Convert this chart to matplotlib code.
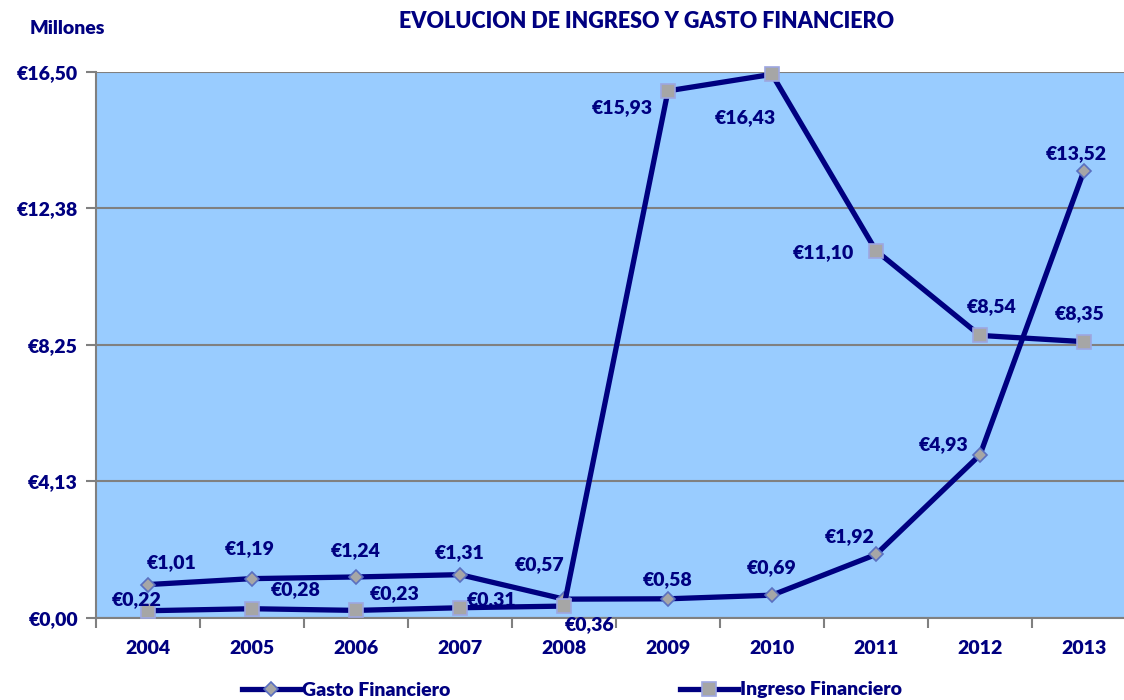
import numpy as np
import matplotlib.pyplot as plt

years = ['2004', '2005', '2006', '2007', '2008', '2009', '2010', '2011', '2012', '2013']
gasto = [1.01, 1.19, 1.24, 1.31, 0.57, 0.58, 0.69, 1.92, 4.93, 13.52]
ingreso = [0.22, 0.28, 0.23, 0.31, 0.36, 15.93, 16.43, 11.10, 8.54, 8.35]
yticks = [0.0, 4.13, 8.25, 12.38, 16.50]

# desplazamiento de las etiquetas (pixeles)
off_gasto = [(24, 22), (-2, 30), (0, 26), (0, 22), (-24, 35), (0, 19), (0, 28), (-26, 18), (-36, 10), (-8, 17)]
off_ingreso = [(-11, 11), (44, 19), (39, 17), (32, 8), (26, -19), (-46, -17), (-27, -43), (-53, -2), (12, 29), (-4, 28)]

navy = '#000080'
plt.rcParams['font.family'] = ['Lato', 'DejaVu Sans']

fig = plt.figure(figsize=(11.24, 7), dpi=100)
ax = fig.add_axes([96 / 1124, 1 - 618 / 700, 1040 / 1124, 546 / 700])
ax.set_facecolor('#99CCFF')

x = np.arange(len(years))
ax.plot(x, gasto, color=navy, lw=3.8, marker='D', ms=7, mfc='#A6A6A6', mec='#5A6FC0', mew=1.2,
        label='Gasto Financiero', zorder=3, clip_on=False)
ax.plot(x, ingreso, color=navy, lw=3.8, marker='s', ms=10, mfc='#A6A6A6', mec='#9DA6E0', mew=1.2,
        label='Ingreso Financiero', zorder=3, clip_on=False)

def fmt(v):
    return '€' + f'{v:.2f}'.replace('.', ',')

for i in range(len(years)):
    ax.annotate(fmt(gasto[i]), (x[i], gasto[i]), xytext=off_gasto[i], textcoords='offset pixels',
                ha='center', va='center', fontsize=14, fontweight='heavy', color=navy, zorder=4)
    ax.annotate(fmt(ingreso[i]), (x[i], ingreso[i]), xytext=off_ingreso[i], textcoords='offset pixels',
                ha='center', va='center', fontsize=14, fontweight='heavy', color=navy, zorder=4)

ax.set_xlim(-0.5, len(years) - 0.5)
ax.set_ylim(0, 16.5)
ax.set_yticks(yticks)
ax.set_yticklabels([fmt(v) for v in yticks])
ax.set_xticks(x)
ax.set_xticklabels(years)
ax.set_xticks(np.arange(len(years) + 1) - 0.5, minor=True)
ax.tick_params(axis='x', which='major', length=0, pad=16)
ax.tick_params(axis='x', which='minor', length=7, color='#808080', width=1.5)
ax.tick_params(axis='y', length=7, color='#808080', width=1.5, pad=6)
for lab in ax.get_xticklabels() + ax.get_yticklabels():
    lab.set_fontweight('heavy')
    lab.set_color(navy)
    lab.set_fontsize(14)

ax.grid(axis='y', color='#808080', lw=1.5)
ax.set_axisbelow(True)
for s in ['top', 'right']:
    ax.spines[s].set_visible(False)
for s in ['left', 'bottom']:
    ax.spines[s].set_color('#808080')
    ax.spines[s].set_linewidth(1.5)

fig.text(647 / 1124, 1 - 21 / 700, 'EVOLUCION DE INGRESO Y GASTO FINANCIERO', ha='center', va='center',
         fontsize=15.5, fontweight='heavy', color=navy)
fig.text(67 / 1124, 1 - 28 / 700, 'Millones', ha='center', va='center',
         fontsize=14, fontweight='heavy', color=navy)

leg = fig.legend(loc='center', bbox_to_anchor=(572 / 1124, 1 - 690 / 700), ncol=2, frameon=False,
                 handlelength=3.0, handletextpad=0.1, columnspacing=11.8,
                 prop={'weight': 'heavy', 'size': 14})
for t in leg.get_texts():
    t.set_color(navy)

fig.savefig('out.png', dpi=100)
